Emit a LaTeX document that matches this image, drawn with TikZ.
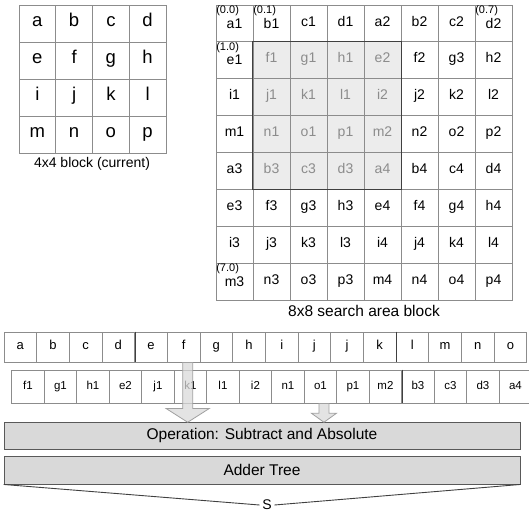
\documentclass[tikz,border=0pt]{standalone}
\usepackage{fontspec}
\setmainfont{Liberation Sans}
\usetikzlibrary{calc}
\definecolor{gridline}{HTML}{8C8C8C}
\definecolor{darkline}{HTML}{404040}
\definecolor{shadefill}{HTML}{ECECEC}
\definecolor{shadetextc}{HTML}{8C8C8C}
\definecolor{boxfill}{HTML}{D9D9D9}
\definecolor{boxline}{HTML}{595959}
\definecolor{arrowline}{HTML}{A0A0A0}
\begin{document}
\begin{tikzpicture}[x=1pt,y=-1pt,
  bigcell/.style={draw=gridline, line width=0.8pt, minimum width=36.75pt, minimum height=37pt, inner sep=0pt,
     font=\fontsize{18.5pt}{18.5pt}\selectfont, text height=0.72em, text depth=0.2em},
  midcell/.style={draw=gridline, line width=0.8pt, minimum width=37pt, minimum height=36.875pt, inner sep=0pt,
     font=\fontsize{14pt}{14pt}\selectfont, text height=0.72em, text depth=0.2em},
  plaintext/.style={text=black},
  shadetext/.style={text=shadetextc},
  cellshift/.style={},
  rowacell/.style={draw=gridline, line width=0.8pt, minimum width=32.67pt, minimum height=30pt, inner sep=0pt,
     font=\fontsize{13pt}{13pt}\selectfont, text height=0.72em, text depth=0.2em},
  rowbcell/.style={draw=gridline, line width=0.8pt, minimum width=32.5pt, minimum height=33pt, inner sep=0pt,
     font=\fontsize{11.5pt}{11.5pt}\selectfont, text height=0.72em, text depth=0.2em},
  coordlabel/.style={anchor=north west, inner sep=0.5pt, font=\fontsize{11pt}{11pt}\selectfont},
  caption/.style={inner sep=0pt, font=\fontsize{14pt}{14pt}\selectfont},
  opbox/.style={draw=boxline, line width=0.9pt, fill=boxfill, minimum width=516pt, inner sep=0pt,
     font=\fontsize{15.5pt}{15.5pt}\selectfont},
  barrow/.style={draw=arrowline, line width=0.8pt, fill=boxfill, fill opacity=0.75},
  sepline/.style={draw=darkline, line width=0.9pt}
]
\useasboundingbox (0,0) rectangle (529,515);

% 4x4 current block
\foreach \row [count=\r from 0] in {{a,b,c,d},{e,f,g,h},{i,j,k,l},{m,n,o,p}}
  \foreach \t [count=\c from 0] in \row
    \node[bigcell] (A-\r-\c) at ({19+36.75*(\c+0.5)},{5+37*(\r+0.5)}) {\t};
\node[caption] (capA) at (92,164) {4x4 block (current)};

% 8x8 search area
\fill[shadefill] (253,41.875) rectangle (401,189.375);
\foreach \row [count=\r from 0] in {
   {a1,b1,c1,d1,a2,b2,c2,d2},
   {e1,f1,g1,h1,e2,f2,g3,h2},
   {i1,j1,k1,l1,i2,j2,k2,l2},
   {m1,n1,o1,p1,m2,n2,o2,p2},
   {a3,b3,c3,d3,a4,b4,c4,d4},
   {e3,f3,g3,h3,e4,f4,g4,h4},
   {i3,j3,k3,l3,i4,j4,k4,l4},
   {m3,n3,o3,p3,m4,n4,o4,p4}}
  \foreach \t [count=\c from 0] in \row {
    \pgfmathtruncatemacro\sh{and(and(\r>0,\r<5),and(\c>0,\c<5))}
    \pgfmathtruncatemacro\lw{or(and(\r==0,or(\c==0,or(\c==1,\c==7))),and(\c==0,or(\r==1,\r==7)))}
    \ifnum\sh=1 \tikzset{curtext/.style=shadetext}\else\tikzset{curtext/.style=plaintext}\fi
    \ifnum\lw=1 \tikzset{cellshift/.style={yshift=-2pt}}\else\tikzset{cellshift/.style={}}\fi
    \node[midcell,curtext] (M-\r-\c) at ({216+37*(\c+0.5)},{5+36.875*(\r+0.5)}) {};
    \node[inner sep=0pt, font=\fontsize{14pt}{14pt}\selectfont, text height=0.72em, text depth=0.2em, curtext, cellshift]
      (MT-\r-\c) at (M-\r-\c.center) {\t};
  }
\draw[darkline, line width=1pt] (M-1-1.north west) rectangle (M-4-4.south east);
\node[coordlabel] (l00) at (M-0-0.north west) {(0.0)};
\node[coordlabel] (l01) at (M-0-1.north west) {(0.1)};
\node[coordlabel] (l07) at (M-0-7.north west) {(0.7)};
\node[coordlabel] (l10) at (M-1-0.north west) {(1.0)};
\node[coordlabel] (l70) at (M-7-0.north west) {(7.0)};
\node[caption, font=\fontsize{15.5pt}{15.5pt}\selectfont] (capM) at (364,311) {8x8 search area block};

% row of current pixels
\foreach \t [count=\c from 0] in {a,b,c,d,e,f,g,h,i,j,j,k,l,m,n,o}
  \node[rowacell] (R-\c) at ({4+32.67*(\c+0.5)},347) {\t};
\draw[sepline] (R-3.north east) -- (R-3.south east);
\draw[sepline] (R-11.north east) -- (R-11.south east);

% row of search pixels
\foreach \t [count=\c from 0] in {f1,g1,h1,e2,j1,k1,l1,i2,n1,o1,p1,m2,b3,c3,d3,a4}
  \node[rowbcell] (S-\c) at ({11.7+32.5*(\c+0.5)},386.5) {\t};
\draw[sepline] (S-11.north east) -- (S-11.south east);

% operation boxes
\node[opbox, minimum height=26.3pt] (op) at (262,435.85) {Operation: Subtract and Absolute};
\node[opbox, minimum height=28pt] (adder) at (262,470) {Adder Tree};
\node[inner sep=2.5pt, font=\fontsize{14pt}{14pt}\selectfont] (sum) at (267,505) {S};
\draw[darkline, line width=0.9pt] (adder.south west) -- (sum.west);
\draw[darkline, line width=0.9pt] (adder.south east) -- (sum.east);

% block arrows
\draw[barrow] let \p1=($(R-5.south)+(4,0)$), \p2=(op.north) in
  (\x1-5pt,\y1) -- (\x1-5pt,\y2+13.7pt) -- (\x1-21.5pt,\y2+13.7pt) -- (\x1,\y2)
  -- (\x1+21.5pt,\y2+13.7pt) -- (\x1+5pt,\y2+13.7pt) -- (\x1+5pt,\y1) -- cycle;
\draw[barrow] let \p1=($(S-9.south)+(3.5,0)$), \p2=(op.north) in
  (\x1-5pt,\y1) -- (\x1-5pt,\y2+9pt) -- (\x1-12.5pt,\y2+9pt) -- (\x1,\y2)
  -- (\x1+12.5pt,\y2+9pt) -- (\x1+5pt,\y2+9pt) -- (\x1+5pt,\y1) -- cycle;
\end{tikzpicture}
\end{document}
